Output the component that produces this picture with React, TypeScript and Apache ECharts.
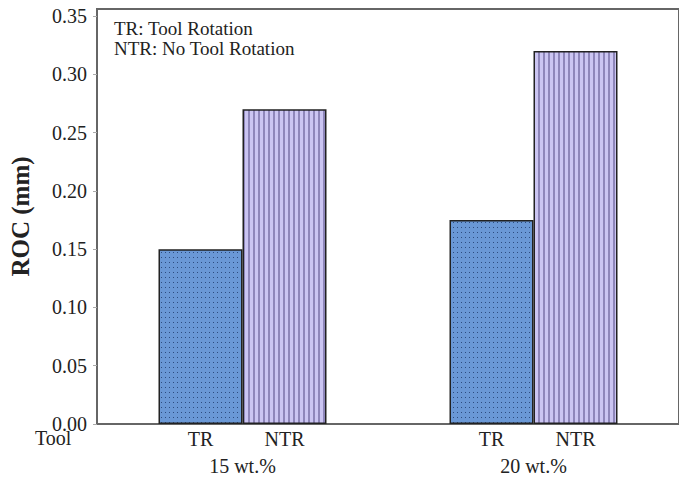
import React, { useEffect, useRef } from "react";
import * as echarts from "echarts";

const groups = ["15 wt.%", "20 wt.%"];
const trValues = [0.15, 0.175];
const ntrValues = [0.27, 0.32];
const tickValues = [0, 0.05, 0.1, 0.15, 0.2, 0.25, 0.3, 0.35];
const legendLines = ["TR: Tool Rotation", "NTR: No Tool Rotation"];

const FONT = "Times New Roman, Liberation Serif, DejaVu Serif, serif";

function makePattern(kind: "dots" | "stripes"): HTMLCanvasElement {
  const c = document.createElement("canvas");
  if (kind === "dots") {
    c.width = 4;
    c.height = 5;
    const ctx = c.getContext("2d")!;
    ctx.fillStyle = "#6a98d6";
    ctx.fillRect(0, 0, 4, 5);
    ctx.fillStyle = "#2c4c80";
    ctx.fillRect(1, 2, 1, 1);
  } else {
    c.width = 5;
    c.height = 4;
    const ctx = c.getContext("2d")!;
    ctx.fillStyle = "#cbc5f2";
    ctx.fillRect(0, 0, 5, 4);
    ctx.fillStyle = "#8e86ba";
    ctx.fillRect(3, 0, 2, 4);
  }
  return c;
}

export default function App() {
  const ref = useRef<HTMLDivElement>(null);
  useEffect(() => {
    document.body.style.margin = "0";
    if (!ref.current) return;
    const chart = echarts.init(ref.current, undefined, { renderer: "svg" });
    const dots = makePattern("dots");
    const stripes = makePattern("stripes");
    chart.setOption({
      animation: false,
      backgroundColor: "#ffffff",
      textStyle: { fontFamily: FONT },
      grid: {
        left: 95,
        top: 9,
        width: 593,
        height: 415,
        show: true,
        borderColor: "#666",
        borderWidth: 2,
        containLabel: false,
      },
      xAxis: {
        type: "category",
        data: groups,
        axisLine: { show: true, lineStyle: { color: "#666", width: 2 } },
        axisTick: { show: false },
        axisLabel: {
          margin: 32,
          color: "#222",
          fontSize: 20,
          fontFamily: FONT,
        },
      },
      yAxis: {
        type: "value",
        min: 0,
        max: 0.356,
        name: "ROC (mm)",
        nameLocation: "middle",
        nameGap: 64,
        nameRotate: 90,
        nameTextStyle: {
          fontSize: 25,
          fontWeight: "bold",
          color: "#222",
          fontFamily: FONT,
        },
        splitLine: { show: false },
        axisLine: { show: true, lineStyle: { color: "#666", width: 2 } },
        axisTick: {
          show: true,
          length: 4,
          customValues: tickValues,
          lineStyle: { color: "#aaa" },
        },
        axisLabel: {
          customValues: tickValues,
          margin: 10,
          color: "#222",
          fontSize: 20,
          fontFamily: FONT,
          formatter: (v: number) => v.toFixed(2),
        },
      },
      series: [
        {
          name: "TR",
          type: "bar",
          data: trValues,
          barWidth: 84,
          barGap: "0%",
          itemStyle: {
            color: { image: dots, repeat: "repeat" },
            borderColor: "#222",
            borderWidth: 1.5,
          },
          label: {
            show: true,
            position: "bottom",
            distance: 5,
            formatter: "{a}",
            color: "#222",
            fontSize: 20,
            fontFamily: FONT,
          },
        },
        {
          name: "NTR",
          type: "bar",
          data: ntrValues,
          barWidth: 84,
          barGap: "0%",
          itemStyle: {
            color: { image: stripes, repeat: "repeat" },
            borderColor: "#222",
            borderWidth: 1.5,
          },
          label: {
            show: true,
            position: "bottom",
            distance: 5,
            formatter: "{a}",
            color: "#222",
            fontSize: 20,
            fontFamily: FONT,
          },
        },
      ],
      graphic: [
        {
          type: "text",
          left: 114,
          top: 18,
          style: {
            text: legendLines.join("\n"),
            fontSize: 19,
            lineHeight: 20,
            fill: "#222",
            fontFamily: FONT,
          },
        },
        {
          type: "text",
          left: 35,
          top: 428,
          style: {
            text: "Tool",
            fontSize: 20,
            fill: "#222",
            fontFamily: FONT,
          },
        },
      ],
    });
    return () => chart.dispose();
  }, []);
  return <div ref={ref} style={{ width: 679, height: 479 }} />;
}
